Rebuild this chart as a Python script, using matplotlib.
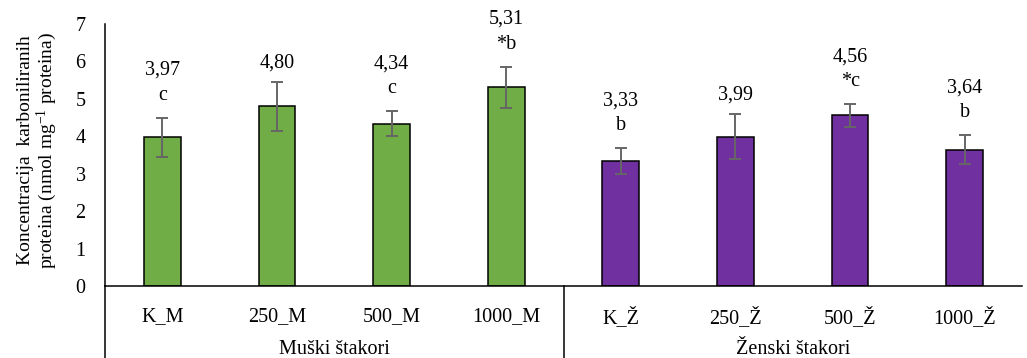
import matplotlib.pyplot as plt
from matplotlib.lines import Line2D

plt.rcParams['font.family'] = 'serif'
plt.rcParams['font.serif'] = ['Liberation Serif', 'Times New Roman', 'DejaVu Serif']
plt.rcParams['mathtext.fontset'] = 'custom'
plt.rcParams['mathtext.rm'] = 'Liberation Serif'
plt.rcParams['mathtext.default'] = 'regular'

categories = ['K_M', '250_M', '500_M', '1000_M', 'K_Ž', '250_Ž', '500_Ž', '1000_Ž']
groups = ['Muški štakori', 'Ženski štakori']
means = [3.97, 4.80, 4.34, 5.31, 3.33, 3.99, 4.56, 3.64]
errors = [0.53, 0.65, 0.34, 0.55, 0.35, 0.60, 0.30, 0.39]
value_labels = ['3,97', '4,80', '4,34', '5,31', '3,33', '3,99', '4,56', '3,64']
letters = ['c', '', 'c', '*b', 'b', '', '*c', 'b']

green = '#70AD47'
purple = '#7030A0'
colors = [green] * 4 + [purple] * 4

fig = plt.figure(figsize=(10.27, 3.58), dpi=100)
ax = fig.add_axes([105 / 1027, 1 - 286 / 358, 917 / 1027, 262 / 358])

x = list(range(len(categories)))
ax.bar(x, means, width=0.32, color=colors, edgecolor='black', linewidth=1.1, zorder=2)
ax.errorbar(x, means, yerr=errors, fmt='none', ecolor='#666666', elinewidth=1.4,
            capsize=4, capthick=1.4, zorder=3)

# labels above the error bars
for xi, m, e, v, l in zip(x, means, errors, value_labels, letters):
    top = m + e
    if l:
        ax.text(xi, top + 0.6, l, ha='center', va='center', fontsize=14.5)
        ax.text(xi, top + 1.26, v, ha='center', va='center', fontsize=14.5)
    else:
        ax.text(xi, top + 0.5, v, ha='center', va='center', fontsize=14.5)

ax.set_xlim(-0.5, 7.5)
ax.set_ylim(0, 7)
ax.set_yticks(range(8))
ax.tick_params(axis='y', length=0, pad=14, labelsize=14.5)
ax.set_xticks(x)
ax.set_xticklabels(categories, fontsize=14.5)
ax.tick_params(axis='x', length=0, pad=15)

for side in ['top', 'right']:
    ax.spines[side].set_visible(False)
for side in ['left', 'bottom']:
    ax.spines[side].set_linewidth(1.1)

trans = ax.get_xaxis_transform()
for gx in [-0.5, 3.5]:
    ax.add_line(Line2D([gx, gx], [0, -0.28], transform=trans, color='black',
                       linewidth=1.1, clip_on=False))
ax.text(1.5, -0.244, groups[0], transform=trans, ha='center', va='center', fontsize=14.5)
ax.text(5.5, -0.244, groups[1], transform=trans, ha='center', va='center', fontsize=14.5)

fig.text(38 / 1027, 0.58, 'Koncentracija  karboniliranih\nproteina (nmol mg$^{-1}$ proteina)',
         rotation=90, ha='center', va='center', fontsize=14, linespacing=1.0)

fig.savefig('out.png', dpi=100)
